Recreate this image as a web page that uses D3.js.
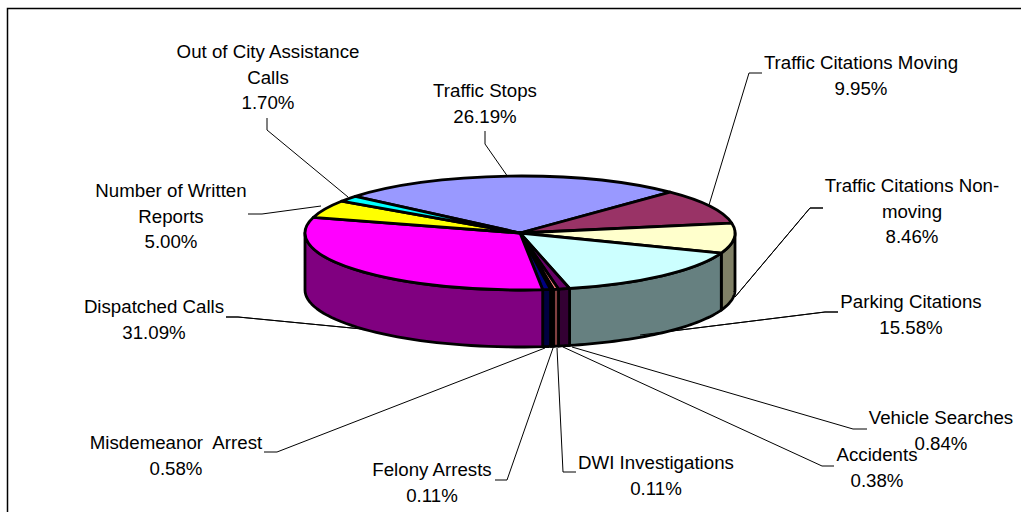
<!DOCTYPE html>
<html>
<head>
<meta charset="utf-8">
<title>Pie</title>
<script src="https://d3js.org/d3.v7.min.js"></script>
<style>
  html, body { margin: 0; background: #fff; }
  text { font-family: "Liberation Sans", Arial, sans-serif; font-size: 18.7px; fill: #000; text-anchor: middle; }
</style>
</head>
<body>
<div id="chart"></div>
<script>
const categories = ['Traffic Stops', 'Traffic Citations Moving', 'Traffic Citations Non-moving', 'Parking Citations',
  'Vehicle Searches', 'Accidents', 'DWI Investigations', 'Felony Arrests', 'Misdemeanor Arrest',
  'Dispatched Calls', 'Number of Written Reports', 'Out of City Assistance Calls'];
const values = [26.19, 9.95, 8.46, 15.58, 0.84, 0.38, 0.11, 0.11, 0.58, 31.09, 5.00, 1.70];
const colors = ['#9999FF', '#993366', '#FFFFCC', '#CCFFFF', '#660066', '#FF8080', '#0066CC', '#CCCCFF', '#000080', '#FF00FF', '#FFFF00', '#00FFFF'];
const labelLines = [
  ['Traffic Stops'], ['Traffic Citations Moving'], ['Traffic Citations Non-', 'moving'], ['Parking Citations'],
  ['Vehicle Searches'], ['Accidents'], ['DWI Investigations'], ['Felony Arrests'], ['Misdemeanor  Arrest'],
  ['Dispatched Calls'], ['Number of Written', 'Reports'], ['Out of City Assistance', 'Calls']
];
// label block: centre x, first baseline y
const labelPos = [[485, 97], [861, 69], [912, 192], [911, 308], [941, 424], [877, 461], [656, 469], [432, 476], [176, 449], [154, 313], [171, 197], [268, 58]];
// leader polylines
const leaders = [
  [[485, 131], [485, 144], [508, 177]],
  [[762, 73], [749, 73], [709, 205]],
  [[823, 208], [810, 208], [735, 297]],
  [[838, 312], [825, 312], [640, 335]],
  [[867, 429], [853, 429], [572, 347]],
  [[834, 466], [822, 466], [563, 347]],
  [[576, 472], [563, 472], [557, 348]],
  [[495, 480], [507, 480], [553, 348]],
  [[264, 452], [277, 452], [545, 348]],
  [[226, 317], [238, 317], [362, 329]],
  [[248, 214], [262, 214], [321, 206]],
  [[267, 118], [267, 130], [348, 197]]
];

const width = 1021, height = 512;
const cx = 520, cy = 233, rx = 215, ry = 57, depth = 57;
const startDeg = -50;

const svg = d3.select('#chart').append('svg').attr('width', width).attr('height', height).style('display', 'block');

svg.append('path')
  .attr('d', `M7.5,${height} V8.5 H${width}`)
  .attr('fill', 'none').attr('stroke', '#000').attr('stroke-width', 1.5);

const pie = d3.pie().sort(null)
  .startAngle(startDeg * Math.PI / 180)
  .endAngle((startDeg + 360) * Math.PI / 180);
const slices = pie(values);

const px = a => cx + rx * Math.sin(a);
const py = a => cy - ry * Math.cos(a);

// walls, only the front half of the ellipse shows
const lo = Math.PI / 2, hi = 3 * Math.PI / 2;
function wall(d) {
  const norm = a => a < 0 ? a + 2 * Math.PI : a;
  let a0 = norm(d.startAngle), a1 = a0 + (d.endAngle - d.startAngle);
  a0 = Math.max(a0, lo); a1 = Math.min(a1, hi);
  if (a1 <= a0) return null;
  const steps = d3.range(0, 41).map(i => a0 + (a1 - a0) * i / 40);
  const top = steps.map(a => [px(a), py(a)]);
  const bottom = steps.slice().reverse().map(a => [px(a), py(a) + depth]);
  return d3.line()(top.concat(bottom)) + 'Z';
}
const dark = c => { const k = d3.rgb(c); return d3.rgb(k.r / 2, k.g / 2, k.b / 2).formatHex(); };

svg.append('g').selectAll('path').data(leaders).join('path')
  .attr('d', d => d3.line()(d))
  .attr('fill', 'none').attr('stroke', '#000').attr('stroke-width', 1);

svg.append('g').selectAll('path').data(slices).join('path')
  .attr('d', wall)
  .attr('fill', (d, i) => dark(colors[i]))
  .attr('stroke', '#000').attr('stroke-width', 2.8).attr('stroke-linejoin', 'round');

const arc = d3.arc().innerRadius(0).outerRadius(rx);
svg.append('g')
  .attr('transform', `translate(${cx},${cy}) scale(1,${ry / rx})`)
  .selectAll('path').data(slices).join('path')
  .attr('d', arc)
  .attr('fill', (d, i) => colors[i])
  .attr('stroke', '#000').attr('stroke-width', 2.8).attr('stroke-linejoin', 'round')
  .attr('vector-effect', 'non-scaling-stroke');

// leaders that land on the wall are drawn over it
svg.append('g').selectAll('path').data(leaders.filter(l => l[l.length - 1][1] > 290 && l[l.length - 1][1] < 340)).join('path')
  .attr('d', d => d3.line()(d))
  .attr('fill', 'none').attr('stroke', '#000').attr('stroke-width', 1);

const lineGap = 25.6;
const labels = svg.append('g').selectAll('text').data(categories).join('text')
  .attr('y', (d, i) => labelPos[i][1]);
labels.each(function (d, i) {
  const sel = d3.select(this);
  labelLines[i].concat([values[i].toFixed(2) + '%']).forEach((t, j) => {
    sel.append('tspan').attr('x', labelPos[i][0]).attr('y', labelPos[i][1] + j * lineGap)
      .style('white-space', 'pre').text(t);
  });
});
</script>
</body>
</html>
